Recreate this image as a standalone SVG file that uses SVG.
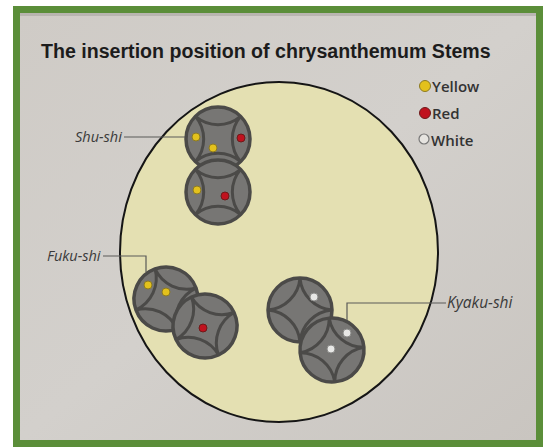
<svg xmlns="http://www.w3.org/2000/svg" width="545" height="447" viewBox="0 0 545 447">
  <style>
    .title { font-family: "Liberation Sans", Arial, sans-serif; font-weight: bold; font-size: 19.6px; fill: #1c1c1c; }
    .lbl { font-family: "Open Sans", "Liberation Sans", sans-serif; font-style: italic; font-size: 14.5px; fill: #3a3a3a; }
    .leg { font-family: "Open Sans", "Liberation Sans", sans-serif; font-weight: 600; font-size: 15px; fill: #333333; }
    .conn { fill: none; stroke: #5a5a58; stroke-width: 1.2; }
    .rim { fill: #777674; stroke: #4b4a48; stroke-width: 3.5; }
    .arc { fill: none; stroke: #4b4a48; stroke-width: 3; }
    .y { fill: #e3c11c; stroke: #8c7a22; stroke-width: 1; }
    .r { fill: #c0121e; stroke: #6e1a1a; stroke-width: 1; }
    .w { fill: #e8e8e6; stroke: #8a8a88; stroke-width: 1; }
  </style>
  <defs>
    <linearGradient id="bg" x1="0" y1="0" x2="1" y2="1">
      <stop offset="0" stop-color="#cfcbc6"/>
      <stop offset="0.5" stop-color="#d3d0cc"/>
      <stop offset="1" stop-color="#c9c5c0"/>
    </linearGradient>
    <g id="holder">
      <circle class="rim" cx="0" cy="0" r="32"/>
      <path class="arc" d="M -22.6 -22.6 A 35 35 0 0 0 22.6 -22.6 A 35 35 0 0 0 22.6 22.6 A 35 35 0 0 0 -22.6 22.6 A 35 35 0 0 0 -22.6 -22.6 Z"/>
    </g>
  </defs>

  <!-- frame -->
  <rect x="0" y="0" width="545" height="447" fill="#ffffff"/>
  <rect x="13" y="6" width="530" height="441" fill="#5b8e39"/>
  <rect x="20" y="13" width="516" height="427" fill="url(#bg)"/>
  <rect x="20" y="13" width="516" height="3" fill="#a9a5a0" opacity="0.6"/>

  <text class="title" x="41" y="58">The insertion position of chrysanthemum Stems</text>

  <!-- vase -->
  <g id="vase">
    <ellipse cx="279" cy="252" rx="159" ry="170" fill="#e4e0b2" stroke="#151515" stroke-width="2"/>
  </g>

  <!-- connectors -->
  <g id="connectors">
    <polyline class="conn" points="124,137 196,137"/>
    <polyline class="conn" points="103,256 146,256 146,272"/>
    <polyline class="conn" points="446,303 347,303 347,330"/>
  </g>

  <!-- Shu-shi -->
  <g id="shu-shi">
    <use href="#holder" transform="translate(218,139)"/>
    <use href="#holder" transform="translate(218,192)"/>
    <circle class="y" cx="196" cy="137" r="4"/>
    <circle class="y" cx="213" cy="148" r="4"/>
    <circle class="r" cx="241" cy="138" r="4"/>
    <circle class="y" cx="197" cy="190" r="4"/>
    <circle class="r" cx="225" cy="196" r="4"/>
    <text class="lbl" x="75" y="142">Shu-shi</text>
  </g>

  <!-- Fuku-shi -->
  <g id="fuku-shi">
    <use href="#holder" transform="translate(166,299) rotate(25)"/>
    <use href="#holder" transform="translate(205,326) rotate(20)"/>
    <circle class="y" cx="148" cy="285" r="4"/>
    <circle class="y" cx="166" cy="292" r="4"/>
    <circle class="r" cx="203" cy="328" r="4"/>
    <text class="lbl" x="47" y="261">Fuku-shi</text>
  </g>

  <!-- Kyaku-shi -->
  <g id="kyaku-shi">
    <use href="#holder" transform="translate(300,310) rotate(45)"/>
    <use href="#holder" transform="translate(332,350) rotate(40)"/>
    <circle class="w" cx="314" cy="297" r="4"/>
    <circle class="w" cx="347" cy="333" r="4"/>
    <circle class="w" cx="331" cy="349" r="4"/>
    <text class="lbl" x="447" y="308" style="font-size:15.5px">Kyaku-shi</text>
  </g>

  <!-- legend -->
  <g id="legend">
    <circle class="y" cx="425" cy="86" r="5.5"/>
    <text class="leg" x="432" y="92">Yellow</text>
    <circle class="r" cx="425" cy="113" r="5.5"/>
    <text class="leg" x="432" y="119">Red</text>
    <circle cx="424" cy="139" r="5" fill="#e6e4e0" stroke="#777" stroke-width="1.2"/>
    <text class="leg" x="431" y="146">White</text>
  </g>
</svg>
